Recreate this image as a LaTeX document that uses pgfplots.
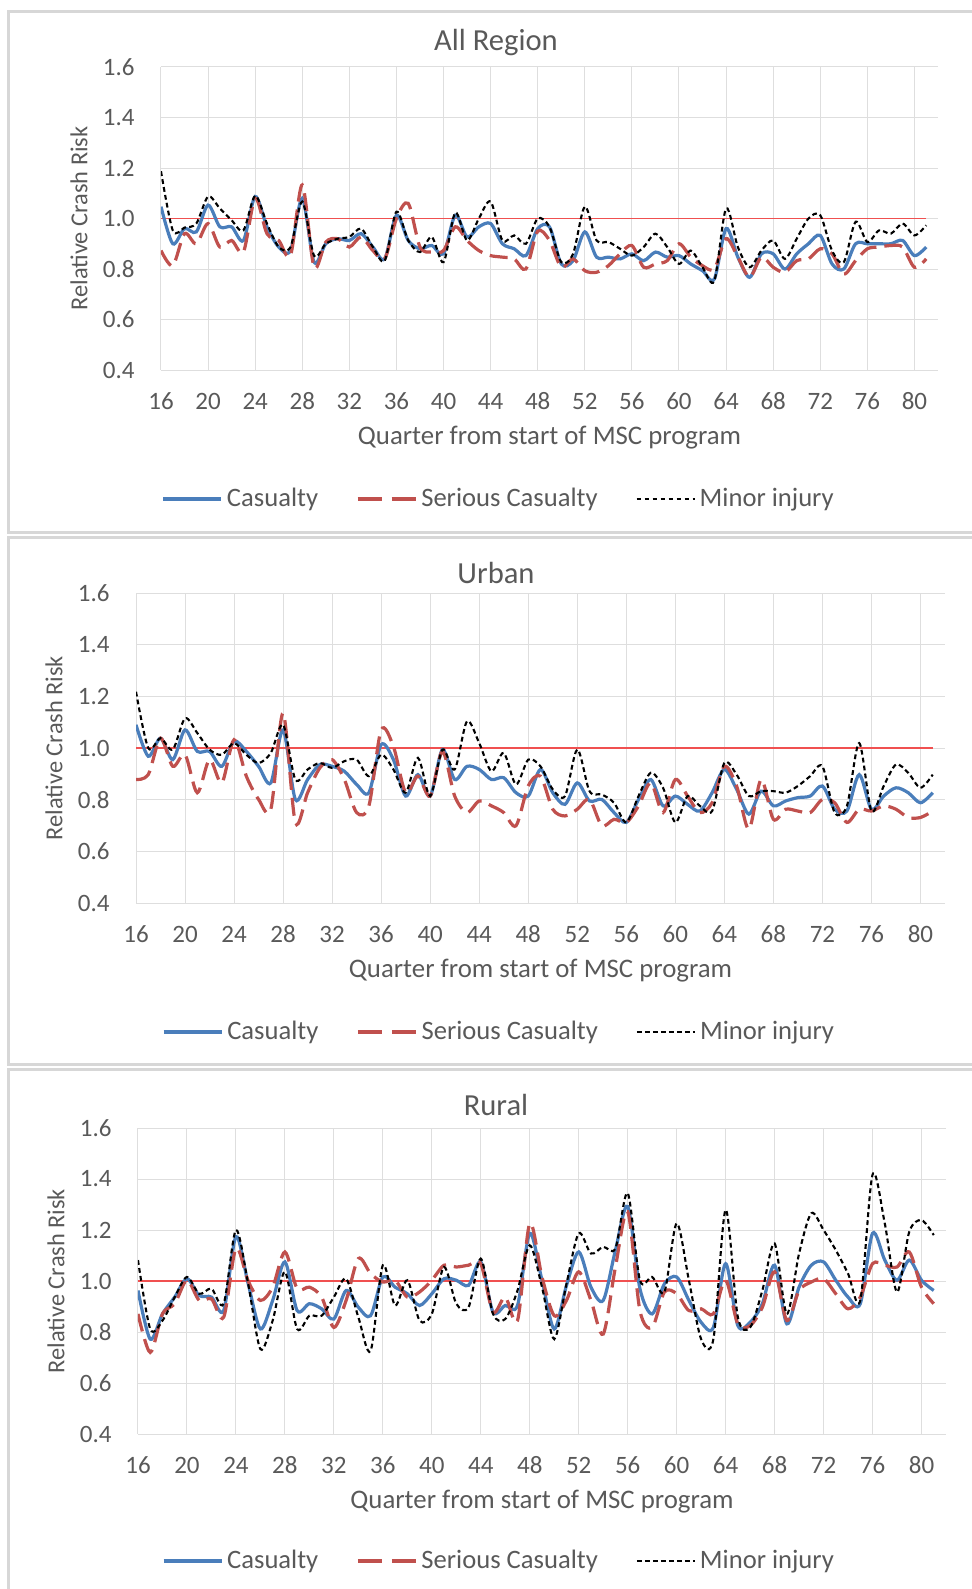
\documentclass[border=0pt]{standalone}
\usepackage{fontspec}
\setmainfont{Carlito}
\usepackage{pgfplots}
\usepackage{pgfplotstable}
\pgfplotsset{compat=1.18}
\definecolor{cas}{RGB}{74,126,187}
\definecolor{ser}{RGB}{192,80,77}
\definecolor{gridc}{RGB}{222,222,222}
\definecolor{txt}{RGB}{89,89,89}
\definecolor{refl}{RGB}{240,80,80}
\definecolor{frame}{RGB}{215,215,215}

\pgfplotstableread{
x cas ser min
16 1.047 0.873 1.187
17 0.900 0.813 0.953
18 0.960 0.940 0.964
19 0.947 0.900 0.980
20 1.053 0.980 1.087
21 0.967 0.887 1.040
22 0.967 0.913 0.993
23 0.913 0.867 0.953
24 1.087 1.080 1.090
25 0.967 0.940 0.980
26 0.887 0.913 0.887
27 0.873 0.853 0.887
28 1.080 1.133 1.067
29 0.827 0.807 0.853
30 0.900 0.907 0.900
31 0.920 0.920 0.920
32 0.913 0.887 0.927
33 0.940 0.927 0.960
34 0.887 0.873 0.887
35 0.840 0.840 0.833
36 1.013 1.000 1.027
37 0.913 1.060 0.913
38 0.880 0.887 0.867
39 0.893 0.867 0.927
40 0.860 0.873 0.827
41 1.013 0.967 1.023
42 0.927 0.913 0.913
43 0.967 0.873 1.000
44 0.980 0.853 1.067
45 0.900 0.847 0.913
46 0.880 0.840 0.933
47 0.853 0.800 0.900
48 0.960 0.950 1.000
49 0.967 0.913 0.967
50 0.820 0.807 0.827
51 0.833 0.840 0.860
52 0.947 0.793 1.047
53 0.847 0.787 0.913
54 0.847 0.813 0.907
55 0.840 0.860 0.880
56 0.860 0.893 0.853
57 0.833 0.807 0.887
58 0.867 0.820 0.940
59 0.847 0.833 0.887
60 0.853 0.900 0.820
61 0.820 0.847 0.873
62 0.793 0.813 0.807
63 0.760 0.800 0.753
64 0.960 0.920 1.040
65 0.847 0.847 0.887
66 0.767 0.767 0.807
67 0.860 0.847 0.873
68 0.860 0.807 0.913
69 0.800 0.787 0.840
70 0.860 0.833 0.920
71 0.900 0.840 1.000
72 0.933 0.880 1.013
73 0.820 0.860 0.873
74 0.800 0.780 0.827
75 0.900 0.833 0.987
76 0.900 0.880 0.907
77 0.900 0.887 0.953
78 0.900 0.893 0.940
79 0.913 0.887 0.980
80 0.853 0.807 0.933
81 0.887 0.840 0.973
}\allregion

\pgfplotstableread{
x cas ser min
16 1.090 0.878 1.218
17 0.968 0.897 1.000
18 1.038 1.038 1.038
19 0.955 0.929 0.994
20 1.070 0.974 1.115
21 0.987 0.827 1.058
22 0.987 0.955 0.994
23 0.929 0.865 0.974
24 1.026 1.032 1.019
25 0.987 0.891 0.974
26 0.929 0.801 0.942
27 0.865 0.763 0.981
28 1.070 1.135 1.090
29 0.801 0.712 0.878
30 0.878 0.827 0.917
31 0.936 0.923 0.942
32 0.929 0.955 0.923
33 0.910 0.878 0.949
34 0.859 0.750 0.955
35 0.827 0.776 0.891
36 1.013 1.070 0.974
37 0.955 1.006 0.917
38 0.814 0.827 0.827
39 0.897 0.891 0.962
40 0.814 0.814 0.814
41 0.994 0.987 0.994
42 0.878 0.814 0.917
43 0.929 0.750 1.103
44 0.917 0.795 1.019
45 0.878 0.776 0.910
46 0.885 0.750 0.981
47 0.827 0.699 0.859
48 0.814 0.853 0.955
49 0.917 0.891 0.929
50 0.827 0.763 0.840
51 0.782 0.737 0.814
52 0.865 0.763 0.994
53 0.795 0.801 0.833
54 0.801 0.699 0.820
55 0.750 0.724 0.788
56 0.712 0.712 0.712
57 0.801 0.776 0.814
58 0.878 0.865 0.904
59 0.776 0.750 0.846
60 0.814 0.878 0.712
61 0.782 0.814 0.814
62 0.756 0.750 0.776
63 0.827 0.788 0.756
64 0.917 0.929 0.942
65 0.840 0.853 0.897
66 0.744 0.686 0.814
67 0.833 0.878 0.833
68 0.776 0.724 0.833
69 0.795 0.763 0.827
70 0.808 0.756 0.853
71 0.814 0.750 0.891
72 0.853 0.801 0.929
73 0.763 0.788 0.750
74 0.756 0.712 0.776
75 0.897 0.763 1.019
76 0.763 0.756 0.756
77 0.814 0.776 0.853
78 0.846 0.763 0.936
79 0.827 0.731 0.904
80 0.788 0.731 0.846
81 0.827 0.756 0.897
}\urban

\pgfplotstableread{
x cas ser min
16 0.963 0.871 1.082
17 0.772 0.720 0.812
18 0.871 0.871 0.845
19 0.937 0.911 0.937
20 1.009 1.003 1.016
21 0.943 0.924 0.950
22 0.937 0.930 0.970
23 0.884 0.858 0.911
24 1.174 1.128 1.200
25 0.989 1.000 0.989
26 0.812 0.924 0.733
27 0.924 0.976 0.845
28 1.075 1.114 1.036
29 0.884 0.970 0.812
30 0.911 0.976 0.864
31 0.891 0.937 0.864
32 0.851 0.818 0.937
33 0.963 0.924 1.009
34 0.897 1.088 0.858
35 0.864 1.029 0.726
36 1.016 0.996 1.062
37 0.976 1.003 0.904
38 0.950 0.937 1.003
39 0.904 0.957 0.845
40 0.950 1.003 0.871
41 1.009 1.062 1.055
42 1.003 1.055 0.911
43 0.983 1.062 0.897
44 1.075 1.068 1.088
45 0.878 0.878 0.871
46 0.904 0.937 0.851
47 0.904 0.845 0.963
48 1.187 1.226 1.140
49 1.003 1.016 0.976
50 0.812 0.864 0.772
51 0.982 0.924 0.989
52 1.114 1.036 1.187
53 0.976 0.924 1.108
54 0.924 0.792 1.134
55 1.121 1.055 1.128
56 1.292 1.272 1.345
57 0.970 0.884 1.003
58 0.871 0.818 1.016
59 0.989 0.957 0.957
60 1.016 0.950 1.226
61 0.924 0.884 1.003
62 0.838 0.891 0.772
63 0.818 0.871 0.772
64 1.068 1.003 1.279
65 0.825 0.832 0.858
66 0.838 0.825 0.818
67 0.911 0.897 0.963
68 1.062 1.036 1.147
69 0.832 0.845 0.871
70 0.976 0.963 1.108
71 1.062 0.996 1.266
72 1.075 1.009 1.200
73 1.003 0.950 1.121
74 0.937 0.891 1.029
75 0.911 0.937 0.924
76 1.187 1.068 1.417
77 1.082 1.062 1.226
78 1.003 1.055 0.957
79 1.082 1.114 1.193
80 1.003 0.976 1.239
81 0.963 0.911 1.180
}\rural

\pgfplotsset{
  panel/.style={
    scale only axis,
    anchor=south west,
    xmin=16, xmax=82, ymin=0.4, ymax=1.6,
    xtick={16,20,...,80},
    ytick={0.4,0.6,0.8,1.0,1.2,1.4,1.6},
    grid=major,
    major grid style={draw=gridc, line width=0.5pt},
    axis line style={draw=none},
    major tick length=0pt,
    /pgf/number format/assume math mode=true,
    tick label style={font=\fontsize{12.5}{15}\selectfont, text=txt},
    yticklabel style={/pgf/number format/fixed, /pgf/number format/fixed zerofill, /pgf/number format/precision=1, anchor=east, inner sep=0pt, xshift=-13pt},
    xticklabel style={anchor=center, inner sep=0pt, yshift=-15.5pt},
    xlabel={Quarter from start of MSC program},
    ylabel={Relative Crash Risk},
    xlabel style={at={([yshift=-34pt]axis description cs:0.5,0)}, anchor=center, font=\fontsize{13.4}{16}\selectfont, text=txt},
    ylabel style={at={([xshift=-41pt]axis description cs:0,0.5)}, anchor=center, font=\fontsize{12.2}{15}\selectfont, text=txt},
    legend columns=3,
    legend cell align=left,
    legend image code/.code={\draw[##1] (0pt,0pt) -- (29pt,0pt);},
    legend style={draw=none, fill=none, font=\fontsize{13.3}{16}\selectfont, text=txt,
      /tikz/every even column/.append style={column sep=17pt}},
  },
  cass/.style={color=cas, line width=1.6pt, smooth},
  sers/.style={color=ser, line width=1.6pt, smooth, dash pattern=on 9pt off 4pt,
    legend image code/.code={\draw[##1, dash pattern=on 12pt off 5pt] (0pt,0pt) -- (29pt,0pt);}},
  mins/.style={color=black, line width=1.05pt, smooth, dash pattern=on 2.4pt off 1.6pt},
  refs/.style={color=refl, line width=0.8pt, forget plot},
}

\begin{document}
\begin{tikzpicture}
\path[use as bounding box] (0,0) rectangle (486pt,-794.5pt);
\draw[frame, line width=1.5pt] (4pt,-6pt) rectangle (487pt,-266pt);
\draw[frame, line width=1.5pt] (4pt,-268.5pt) rectangle (487pt,-532pt);
\draw[frame, line width=1.5pt] (4pt,-534.5pt) rectangle (487pt,-796pt);

\begin{axis}[panel, at={(80.5pt,-185pt)}, width=388.5pt, height=151.5pt,
  legend style={at={([yshift=-64.5pt]axis description cs:0.436,0)}, anchor=center}]
\addplot[refs] coordinates {(16,1) (81,1)};
\addplot[cass] table[x=x,y=cas] {\allregion};
\addlegendentry{Casualty}
\addplot[sers] table[x=x,y=ser] {\allregion};
\addlegendentry{Serious Casualty}
\addplot[mins] table[x=x,y=min] {\allregion};
\addlegendentry{Minor injury}
\end{axis}

\begin{axis}[panel, at={(68pt,-451.5pt)}, width=404.5pt, height=155pt,
  legend style={at={([yshift=-64.5pt]axis description cs:0.45,0)}, anchor=center}]
\addplot[refs] coordinates {(16,1) (81,1)};
\addplot[cass] table[x=x,y=cas] {\urban};
\addlegendentry{Casualty}
\addplot[sers] table[x=x,y=ser] {\urban};
\addlegendentry{Serious Casualty}
\addplot[mins] table[x=x,y=min] {\urban};
\addlegendentry{Minor injury}
\end{axis}

\begin{axis}[panel, at={(69pt,-717pt)}, width=404pt, height=153pt,
  legend style={at={([yshift=-63.5pt]axis description cs:0.448,0)}, anchor=center}]
\addplot[refs] coordinates {(16,1) (81,1)};
\addplot[cass] table[x=x,y=cas] {\rural};
\addlegendentry{Casualty}
\addplot[sers] table[x=x,y=ser] {\rural};
\addlegendentry{Serious Casualty}
\addplot[mins] table[x=x,y=min] {\rural};
\addlegendentry{Minor injury}
\end{axis}

\node[font=\fontsize{15.3}{18}\selectfont, text=txt] at (248pt,-21.5pt) {All Region};
\node[font=\fontsize{15.3}{18}\selectfont, text=txt] at (248pt,-286.5pt) {Urban};
\node[font=\fontsize{15.3}{18}\selectfont, text=txt] at (248pt,-552.5pt) {Rural};
\end{tikzpicture}
\end{document}
